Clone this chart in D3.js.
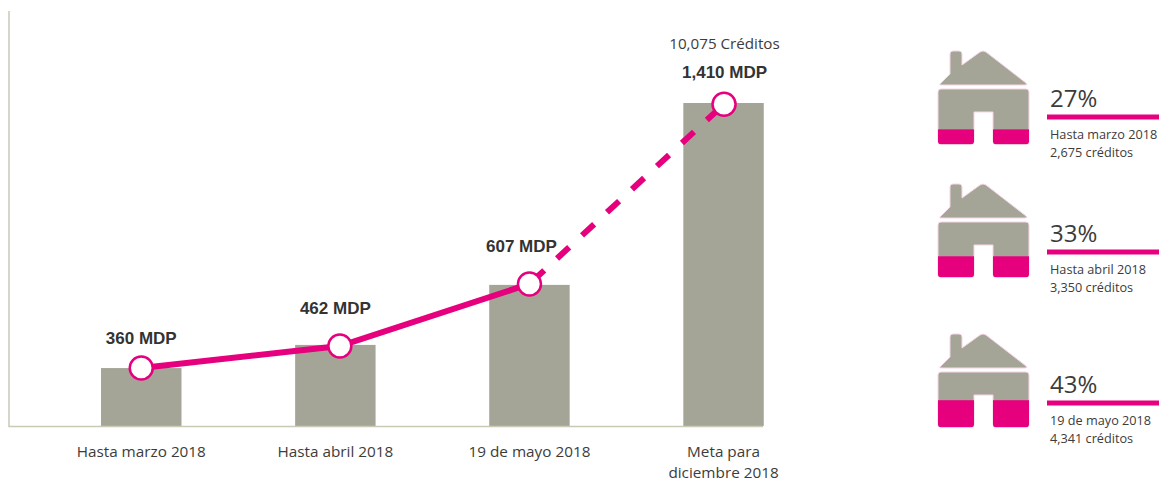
<!DOCTYPE html>
<html>
<head>
<meta charset="utf-8">
<script src="https://cdnjs.cloudflare.com/ajax/libs/d3/7.8.5/d3.min.js"></script>
<style>
    html, body { margin: 0; padding: 0; background: #fff; }
    svg { display: block; }
    text { font-family: "Open Sans", sans-serif; fill: #3c3c3b; }
    .value-label { font-family: "Liberation Sans", Arial, sans-serif; font-weight: 700; font-size: 17px; fill: #333; }
</style>
</head>
<body>
<div id="chart"></div>
<script>
const categories = ['Hasta marzo 2018', 'Hasta abril 2018', '19 de mayo 2018', 'Meta para|diciembre 2018'];
// the printed bars are not to scale with their labels, these are the drawn levels
const barLevels = [253, 354, 616, 1410];
const lineLevels = [253, 349, 620, 1405];
const valueLabels = ['360 MDP', '462 MDP', '607 MDP', '1,410 MDP'];
const goalCredits = '10,075 Créditos';

const housePercents = ['27%', '33%', '43%'];
const houseFill = [27, 38, 49];
const houseDates = ['Hasta marzo 2018', 'Hasta abril 2018', '19 de mayo 2018'];
const houseCredits = ['2,675 créditos', '3,350 créditos', '4,341 créditos'];

const PINK = '#e6007e';
const GREY = '#a5a597';
const AXIS = '#c9c9b6';

const svg = d3.select('#chart').append('svg').attr('width', 1161).attr('height', 481);

// --- bars
const x = d3.scaleBand().domain(categories).range([42.8, 822]).paddingInner(0.5855).paddingOuter(0.3);
const y = d3.scaleLinear().domain([0, 1410]).range([426, 103]);
svg.append('g').attr('class', 'g-bars').selectAll('rect').data(barLevels).join('rect')
    .attr('x', (_, i) => x(categories[i]))
    .attr('y', d => y(d))
    .attr('width', x.bandwidth())
    .attr('height', d => y(0) - y(d))
    .attr('fill', GREY);

// --- axis
svg.append('path')
    .attr('d', d3.line()([[9, 11], [9, 426.5], [763, 426.5]]))
    .attr('fill', 'none').attr('stroke', AXIS).attr('stroke-width', 1.5);

const axisLabels = svg.append('g').selectAll('text').data(categories).join('text')
    .attr('text-anchor', 'middle')
    .attr('font-size', 15.3);
axisLabels.each(function(d) {
    const cx = x(d) + x.bandwidth() / 2;
    d.split('|').forEach((part, row) => {
        d3.select(this).append('tspan').attr('x', cx).attr('y', 457 + row * 21).text(part);
    });
});

// --- line, the 2nd marker sits a little right of its bar in the original
const pointShift = [0, 4.5, 0, 0.5];
const px = i => x(categories[i]) + x.bandwidth() / 2 + pointShift[i];
const line = d3.line().x(d => px(d)).y(d => y(lineLevels[d]));
const g_line = svg.append('g').attr('fill', 'none').attr('stroke', PINK);
g_line.append('path').datum([0, 1, 2]).attr('stroke-width', 6).attr('d', line);
g_line.append('path').datum([2, 3]).attr('stroke-width', 6).attr('stroke-dasharray', '16.5 17.5').attr('stroke-dashoffset', -3.6).attr('d', line);
svg.append('g').selectAll('circle').data(lineLevels).join('circle')
    .attr('cx', (_, i) => px(i))
    .attr('cy', d => y(d))
    .attr('r', 11.5)
    .attr('fill', '#fff')
    .attr('stroke', PINK)
    .attr('stroke-width', 2.5);

// --- value labels
const labelDx = [0, -4.5, -8, 0.5];
const labelDy = [-24, -32, -32, -26];
svg.append('g').selectAll('text').data(valueLabels).join('text')
    .attr('class', 'value-label')
    .attr('text-anchor', 'middle')
    .attr('x', (_, i) => px(i) + labelDx[i])
    .attr('y', (_, i) => y(lineLevels[i]) + labelDy[i])
    .text(d => d);
svg.append('text').attr('text-anchor', 'middle').attr('x', 724.5).attr('y', 49).attr('font-size', 15.2).text(goalCredits);

// --- houses
const houseTop = d3.scaleOrdinal().domain(housePercents).range([0, 133, 283]);
const textTop = d3.scaleOrdinal().domain(housePercents).range([0, 135, 286]);
const bodyY = d3.scaleLinear().domain([0, 100]).range([144.3, 89]);
const roof = 'M950,54 Q950,51 953,51 L959,51 Q962,51 962,54 L962,65 L980,52 Q983,50 986,52 L1026,83 Q1028,85 1025,85 L942,85 Q938,85 941,83 L950,74 Z';
const body = 'M941,89 L1026,89 Q1029,89 1029,92 L1029,141.3 Q1029,144.3 1026,144.3 L996,144.3 Q993,144.3 993,141.3 L993,112 L974,112 L974,141.3 Q974,144.3 971,144.3 L941,144.3 Q938,144.3 938,141.3 L938,92 Q938,89 941,89 Z';

svg.append('defs').append('clipPath').attr('id', 'house-body').append('path').attr('d', body);

housePercents.forEach((pct, i) => {
    const g = svg.append('g').attr('transform', `translate(0,${houseTop(pct)})`);
    g.append('path').attr('d', roof).attr('fill', GREY).attr('stroke', '#f8d5e6').attr('stroke-width', 1);
    g.append('path').attr('d', body).attr('fill', GREY).attr('stroke', '#f8d5e6').attr('stroke-width', 1);
    g.append('g').attr('clip-path', 'url(#house-body)').append('rect')
        .attr('x', 938).attr('width', 91)
        .attr('y', bodyY(houseFill[i]))
        .attr('height', bodyY(0) - bodyY(houseFill[i]))
        .attr('fill', PINK);

    const t = svg.append('g').attr('transform', `translate(0,${textTop(pct)})`);
    t.append('text').attr('x', 1050).attr('y', 107).attr('font-size', 24).text(pct);
    t.append('rect').attr('x', 1047).attr('y', 114.5).attr('width', 112).attr('height', 5).attr('fill', PINK);
    t.append('text').attr('x', 1050).attr('y', 138.5).attr('font-size', 12.7).text(houseDates[i]);
    t.append('text').attr('x', 1050).attr('y', 157).attr('font-size', 12.7).text(houseCredits[i]);
});
</script>
</body>
</html>
